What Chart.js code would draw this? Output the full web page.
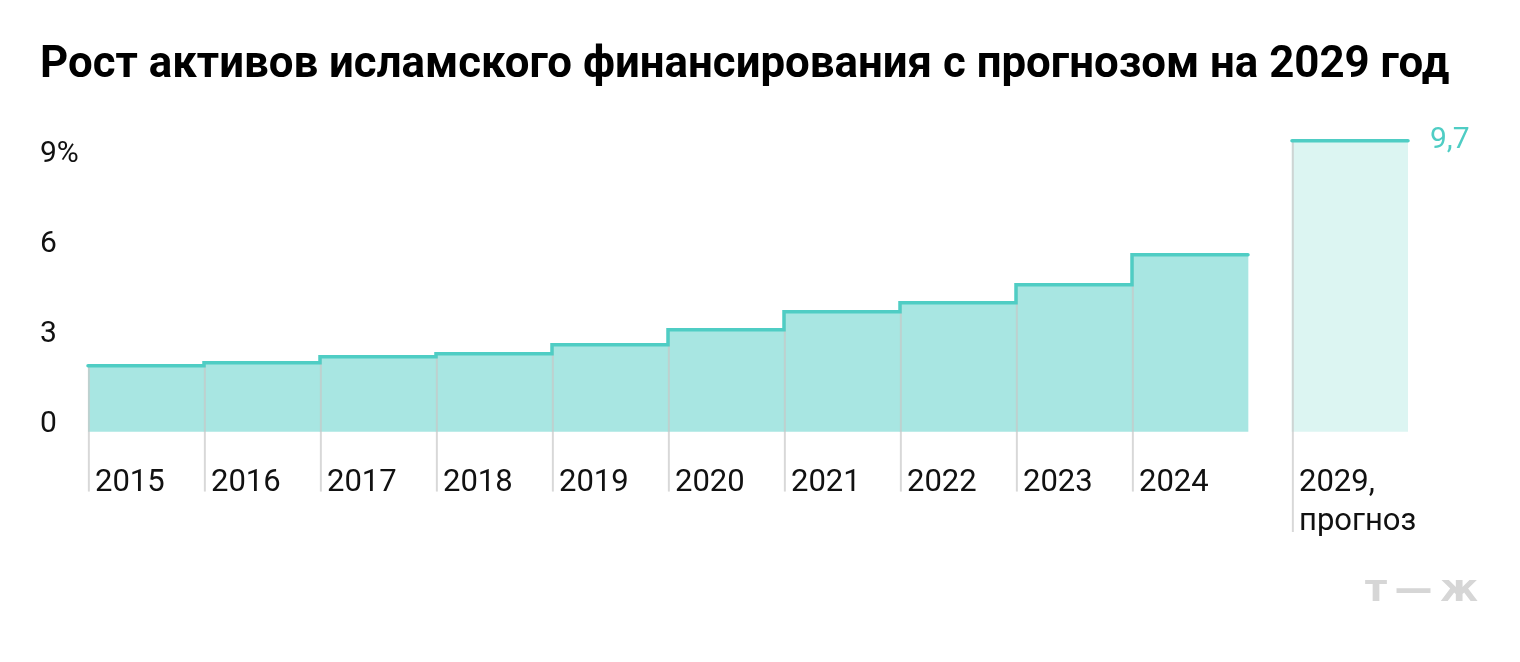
<!DOCTYPE html>
<html lang="ru">
<head>
<meta charset="utf-8">
<title>Рост активов исламского финансирования</title>
<script src="https://cdn.jsdelivr.net/npm/chart.js@4"></script>
<style>
    html, body { margin: 0; padding: 0; background: #fff; }
    #wrap { width: 1520px; height: 662px; position: relative; }
</style>
</head>
<body>
<div id="wrap"><canvas id="islamic-chart"></canvas></div>
<script>
const years = ["2015", "2016", "2017", "2018", "2019", "2020", "2021", "2022", "2023", "2024"];
const growth = [2.2, 2.3, 2.5, 2.6, 2.9, 3.4, 4.0, 4.3, 4.9, 5.9];
const forecastLabel = ["2029,", "прогноз"];
const forecastValue = 9.7;
const yTicks = [0, 3, 6, 9];

const LINE = "#4FCDC4";
const FILL = "#A8E6E2";
const FILL_FORECAST = "#DCF5F2";
const GRID = "rgba(200, 200, 200, 0.7)";

// forecast bar sits a bit apart from the history bars
const GAP = 44 / 116;
const forecastX = years.length + GAP;
const xMin = -0.5;
const xMax = forecastX + 0.5;
// how far below zero the thin separators run (in value units)
const DROP = -2.0;
const DROP_FORECAST = -3.34;

const barPoints = growth.map((v, i) => ({ x: i, y: v }));
barPoints.push({ x: forecastX, y: forecastValue });

const gridPoints = growth.map((v, i) => ({ x: i, y: [DROP, v] }));
gridPoints.push({ x: forecastX, y: [DROP_FORECAST, forecastValue] });

const stepPoints = growth.map((v, i) => ({ x: i - 0.5, y: v }));
stepPoints.push({ x: growth.length - 0.5, y: growth[growth.length - 1] });

const forecastPoints = [
    { x: forecastX - 0.5, y: forecastValue },
    { x: forecastX + 0.5, y: forecastValue },
];

const tickEdges = years.map((y, i) => i - 0.5);
tickEdges.push(forecastX - 0.5);

Chart.defaults.font.family = "Roboto, 'Noto Sans', sans-serif";
Chart.defaults.color = "#111";

const ctx = document.getElementById("islamic-chart");
new Chart(ctx, {
    data: {
        datasets: [
            {
                type: "line",
                data: stepPoints,
                stepped: true,
                borderColor: LINE,
                borderWidth: 3.5,
                borderCapStyle: "round",
                borderJoinStyle: "miter",
                pointRadius: 0,
                fill: false,
                clip: false,
                order: 1,
            },
            {
                type: "line",
                data: forecastPoints,
                borderColor: LINE,
                borderWidth: 3.5,
                borderCapStyle: "round",
                pointRadius: 0,
                fill: false,
                clip: false,
                order: 1,
            },
            {
                type: "bar",
                data: gridPoints,
                backgroundColor: "rgba(0,0,0,0)",
                borderColor: GRID,
                borderWidth: { left: 1.5, right: 0, top: 0, bottom: 0 },
                borderSkipped: false,
                grouped: false,
                barPercentage: 1,
                categoryPercentage: 1,
                clip: false,
                order: 2,
            },
            {
                type: "bar",
                data: barPoints,
                backgroundColor: barPoints.map((p, i) => (i < years.length ? FILL : FILL_FORECAST)),
                borderWidth: 0,
                grouped: false,
                barPercentage: 1,
                categoryPercentage: 1,
                order: 3,
            },
        ],
    },
    options: {
        animation: false,
        responsive: true,
        maintainAspectRatio: false,
        events: [],
        layout: {
            padding: { left: 40, right: 42, top: 0, bottom: 52 },
        },
        scales: {
            x: {
                type: "linear",
                offset: false,
                min: xMin,
                max: xMax,
                afterBuildTicks: (scale) => {
                    scale.ticks = tickEdges.map((v) => ({ value: v }));
                },
                afterFit: (scale) => {
                    scale.height = 140.3;
                    scale.paddingLeft = 0;
                    scale.paddingRight = 0;
                },
                grid: {
                    display: true,
                    offset: false,
                    drawOnChartArea: false,
                    drawTicks: true,
                    tickLength: 32,
                    color: "rgba(0,0,0,0)",
                },
                border: { display: false },
                ticks: {
                    align: "start",
                    labelOffset: 7,
                    padding: 0,
                    autoSkip: false,
                    maxRotation: 0,
                    font: { size: 31, lineHeight: 1.25 },
                    callback: function (val, index) {
                        return index < years.length ? years[index] : forecastLabel;
                    },
                },
            },
            y: {
                position: "left",
                min: 0,
                max: 10,
                afterBuildTicks: (scale) => {
                    scale.ticks = yTicks.map((v) => ({ value: v }));
                },
                afterFit: (scale) => {
                    scale.width = 48;
                },
                grid: { display: false, drawTicks: false },
                border: { display: false },
                ticks: {
                    crossAlign: "far",
                    labelOffset: -7,
                    padding: 0,
                    font: { size: 30 },
                    callback: function (val) {
                        return val === 9 ? "9%" : String(val);
                    },
                },
            },
            y2: {
                position: "right",
                min: 0,
                max: 10,
                afterBuildTicks: (scale) => {
                    scale.ticks = [{ value: forecastValue }];
                },
                afterFit: (scale) => {
                    scale.width = 70;
                },
                grid: { display: false, drawTicks: false },
                border: { display: false },
                ticks: {
                    crossAlign: "near",
                    padding: 22,
                    labelOffset: 0,
                    color: LINE,
                    font: { size: 30 },
                    callback: function (val) {
                        return String(forecastValue).replace(".", ",");
                    },
                },
            },
        },
        plugins: {
            legend: { display: false },
            tooltip: { enabled: false },
            title: {
                display: true,
                text: "Рост активов исламского финансирования с прогнозом на 2029 год",
                align: "start",
                color: "#000",
                font: { size: 43.8, weight: "bold", lineHeight: 1.2 },
                padding: { top: 40, bottom: 39.1 },
            },
            subtitle: {
                display: true,
                position: "bottom",
                align: "end",
                text: "т\u2009—\u2009ж",
                color: "#d6d6d6",
                font: { family: "'DejaVu Sans', sans-serif", size: 38, weight: "bold", lineHeight: 1 },
                padding: 0,
            },
        },
    },
});
</script>
</body>
</html>
